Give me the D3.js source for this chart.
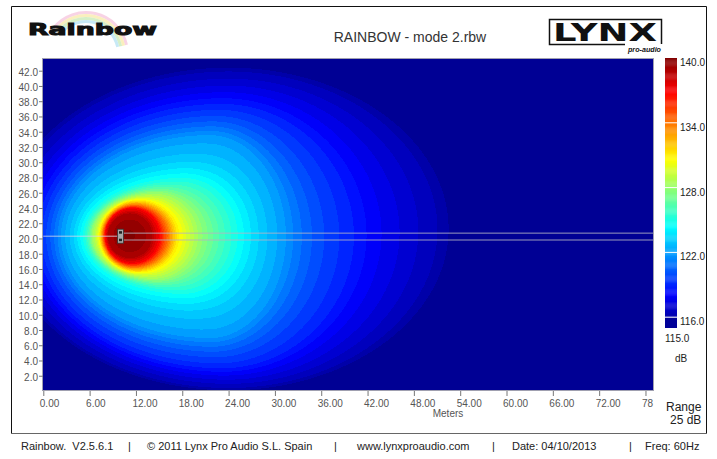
<!DOCTYPE html>
<html>
<head>
<meta charset="UTF-8">
<title>RAINBOW - mode 2.rbw</title>
<script src="https://cdn.jsdelivr.net/npm/d3@7"></script>
<style>
html, body { margin: 0; padding: 0; background: #fff; }
svg { display: block; font-family: "Liberation Sans", Arial, sans-serif; }
</style>
</head>
<body>
<script>
// SPL contours (dB), extents in metres
var levels        = [139, 137, 134, 131, 128, 125, 122, 119, 117, 116];
var contourLeft   = [8.4, 8.0, 7.7, 7.3, 6.3, 5.3, 2.5, -0.5, -3.0, -5.0];
var contourRight  = [14.0, 15.1, 16.2, 17.4, 20.3, 24.8, 31.0, 39.5, 47.5, 52.5];
var contourWidest = [11.2, 11.5, 11.8, 12.3, 14.5, 18.0, 21.5, 23.0, 24.0, 24.0];
var contourTop    = [23.2, 24.0, 24.4, 25.0, 26.0, 27.7, 33.3, 37.3, 40.5, 42.4];
var contourBottom = [17.5, 16.7, 16.2, 15.6, 14.6, 13.0, 7.2, 3.2, 1.2, 0.1];
var peakLevel = 140, floorLevel = 115.6;

var source = {x: 10.0, y: 20.3};
var beamTop = 20.7, beamBottom = 19.8;

var xTicks = [0, 6, 12, 18, 24, 30, 36, 42, 48, 54, 60, 66, 72, 78];
var xTickLabels = ["0.00", "6.00", "12.00", "18.00", "24.00", "30.00", "36.00", "42.00",
                   "48.00", "54.00", "60.00", "66.00", "72.00", "78"];
var yTicks = [2, 4, 6, 8, 10, 12, 14, 16, 18, 20, 22, 24, 26, 28, 30, 32, 34, 36, 38, 40, 42];
var cbTicks = [140, 134, 128, 122, 116];
var cbMin = 115, cbMax = 140;
var jetStops = ["#000080", "#0000ff", "#0080ff", "#00ffff", "#80ff80", "#ffff00", "#ff8000", "#ff0000", "#800000"];

var footer = ["Rainbow.  V2.5.6.1", "|", "\u00a9 2011 Lynx Pro Audio S.L. Spain", "|",
              "www.lynxproaudio.com", "|", "Date: 04/10/2013", "|", "Freq: 60Hz"];
var footerX = [21, 128, 147, 334, 357, 492, 512, 629, 645];

var width = 717, height = 459;

var svg = d3.select("body").append("svg")
    .attr("width", width)
    .attr("height", height);

var x = d3.scaleLinear().domain([0, 79]).range([43.3, 653.2]);
var y = d3.scaleLinear().domain([0, 43.6]).range([391, 58.5]);

var color = d3.scaleLinear()
    .domain(d3.range(jetStops.length).map(function (i) { return cbMin + i * (cbMax - cbMin) / (jetStops.length - 1); }))
    .range(jetStops)
    .clamp(true);

// frame
svg.append("path")
    .attr("d", "M11.5,433 V6.5 H706.5 V433")
    .attr("fill", "none").attr("stroke", "#111").attr("stroke-width", 1);
svg.append("line")
    .attr("x1", 11).attr("x2", 707).attr("y1", 433.5).attr("y2", 433.5)
    .attr("stroke", "#666");

// Rainbow logo
var logo = svg.append("g");
var arcColors = ["#f6c4dc", "#f8eaa8", "#c8eab4", "#b4e2f2"];
arcColors.forEach(function (c, i) {
    logo.append("path")
        .attr("d", d3.arc()({innerRadius: 40 - i * 3, outerRadius: 43 - i * 3, startAngle: -0.9, endAngle: 1.35}))
        .attr("transform", "translate(86,54)")
        .attr("fill", c).attr("opacity", 0.75);
});
logo.append("text")
    .attr("x", 28).attr("y", 35)
    .attr("font-family", "DejaVu Sans").attr("font-weight", "bold").attr("font-size", 16)
    .attr("textLength", 129).attr("lengthAdjust", "spacingAndGlyphs")
    .attr("fill", "#111").attr("stroke", "#111").attr("stroke-width", 1)
    .text("Rainbow");

// title
svg.append("text")
    .attr("x", 410).attr("y", 41.5)
    .attr("text-anchor", "middle").attr("font-size", 14).attr("fill", "#333")
    .text("RAINBOW - mode 2.rbw");

// LYNX logo
var lynx = svg.append("g");
lynx.append("path")
    .attr("d", "M625,44.5 H549.5 V19.5 H661.5 V44")
    .attr("fill", "none").attr("stroke", "#111").attr("stroke-width", 1.5);
lynx.append("text")
    .attr("x", 553).attr("y", 41)
    .attr("font-family", "DejaVu Sans").attr("font-weight", "bold").attr("font-size", 24)
    .attr("textLength", 104).attr("lengthAdjust", "spacingAndGlyphs")
    .attr("fill", "#111")
    .text("LYNX");
lynx.append("text")
    .attr("x", 628).attr("y", 52)
    .attr("font-weight", "bold").attr("font-style", "italic").attr("font-size", 7)
    .attr("textLength", 33).attr("lengthAdjust", "spacingAndGlyphs")
    .attr("fill", "#111")
    .text("pro-audio");

// SPL map: each contour is two half-ellipses joined at its widest point
function levelAt(px, py) {
    var prev = null;
    for (var i = 0; i < levels.length; i++) {
        var w = contourWidest[i];
        var a = px < w ? w - contourLeft[i] : contourRight[i] - w;
        var cy = (contourTop[i] + contourBottom[i]) / 2, b = (contourTop[i] - contourBottom[i]) / 2;
        var f = Math.hypot((px - w) / a, (py - cy) / b);
        if (f < 1) {
            if (i === 0) return peakLevel - (peakLevel - levels[0]) * f;
            var g = (prev - 1) / ((prev - 1) + (1 - f));
            return levels[i - 1] + g * (levels[i] - levels[i - 1]);
        }
        prev = f;
    }
    return floorLevel;
}

var x0 = Math.round(x.range()[0]), x1 = Math.round(x.range()[1]);
var y0 = Math.round(y.range()[1]), y1 = Math.round(y.range()[0]);
var cw = x1 - x0, ch = y1 - y0;
var canvas = document.createElement("canvas");
canvas.width = cw; canvas.height = ch;
var ctx = canvas.getContext("2d");
var img = ctx.createImageData(cw, ch);
for (var j = 0; j < ch; j++) {
    var my = y.invert(y0 + j + 0.5);
    for (var i = 0; i < cw; i++) {
        var mx = x.invert(x0 + i + 0.5);
        var L = Math.round(levelAt(mx, my) * 2) / 2;
        var c = d3.rgb(color(L));
        var k = (j * cw + i) * 4;
        img.data[k] = c.r; img.data[k + 1] = c.g; img.data[k + 2] = c.b; img.data[k + 3] = 255;
    }
}
ctx.putImageData(img, 0, 0);

var plot = svg.append("g");
plot.append("image")
    .attr("x", x0).attr("y", y0).attr("width", cw).attr("height", ch)
    .attr("preserveAspectRatio", "none")
    .attr("href", canvas.toDataURL());

// aiming lines and source
plot.append("line")
    .attr("x1", x(0)).attr("x2", x(source.x)).attr("y1", y(source.y)).attr("y2", y(source.y))
    .attr("stroke", "#d8d8e8").attr("stroke-opacity", 0.8);
[beamTop, beamBottom].forEach(function (b) {
    plot.append("line")
        .attr("x1", x(source.x)).attr("x2", x(79)).attr("y1", y(b)).attr("y2", y(b))
        .attr("stroke", "#b4b4c4").attr("stroke-opacity", 0.85);
});
plot.append("rect")
    .attr("x", x(source.x) - 3).attr("y", y(source.y) - 7).attr("width", 6).attr("height", 14)
    .attr("fill", "#a8a8a8").attr("stroke", "#333").attr("stroke-width", 0.8);
plot.append("rect")
    .attr("x", x(source.x) - 1.5).attr("y", y(source.y) - 5).attr("width", 3).attr("height", 2.5)
    .attr("fill", "#222");
plot.append("rect")
    .attr("x", x(source.x) - 1.5).attr("y", y(source.y) + 2.5).attr("width", 3).attr("height", 2.5)
    .attr("fill", "#222");

plot.append("rect")
    .attr("x", x0 - 0.5).attr("y", y0 - 0.5).attr("width", cw + 1).attr("height", ch)
    .attr("fill", "none").attr("stroke", "#a0a0b0");

// axes
var xAxis = svg.append("g")
    .attr("transform", "translate(0," + y1 + ")")
    .call(d3.axisBottom(x).tickValues(xTicks).tickSize(5).tickPadding(4)
        .tickFormat(function (d, i) { return xTickLabels[i]; }));
xAxis.select(".domain").remove();
xAxis.selectAll("line").attr("stroke", "#777");
xAxis.selectAll("text")
    .attr("text-anchor", "start").attr("dx", -4)
    .attr("font-size", 10).attr("font-family", "Liberation Sans, Arial, sans-serif").attr("fill", "#555");

var yAxis = svg.append("g")
    .attr("transform", "translate(" + x0 + ",0)")
    .call(d3.axisLeft(y).tickValues(yTicks).tickSize(4).tickPadding(1).tickFormat(d3.format(".1f")));
yAxis.select(".domain").remove();
yAxis.selectAll("line").attr("stroke", "#777");
yAxis.selectAll("text")
    .attr("dy", "0.45em")
    .attr("font-size", 10).attr("font-family", "Liberation Sans, Arial, sans-serif").attr("fill", "#555");

svg.append("text")
    .attr("x", 448).attr("y", 417)
    .attr("text-anchor", "middle").attr("font-size", 10).attr("fill", "#555")
    .text("Meters");

// colour bar
var cb = d3.scaleLinear().domain([cbMin, cbMax]).range([328, 58]);
var cbX = 665, cbW = 12;
var cbG = svg.append("g");
cbG.selectAll("rect")
    .data(d3.range(116, 140, 0.1))
    .enter().append("rect")
    .attr("x", cbX).attr("width", cbW)
    .attr("y", function (d) { return cb(d + 0.1); })
    .attr("height", function (d) { return cb(d) - cb(d + 0.1) + 0.3; })
    .attr("fill", function (d) { return color(d + 0.05); });
cbG.append("rect")
    .attr("x", cbX).attr("width", cbW)
    .attr("y", cb(116)).attr("height", cb(cbMin) - cb(116))
    .attr("fill", color(floorLevel));
cbG.selectAll("line.sep")
    .data(cbTicks.slice(1))
    .enter().append("line")
    .attr("class", "sep")
    .attr("x1", cbX).attr("x2", cbX + cbW)
    .attr("y1", function (d) { return cb(d); }).attr("y2", function (d) { return cb(d); })
    .attr("stroke", "#fff").attr("stroke-width", 1);
cbG.selectAll("text.tick")
    .data(cbTicks)
    .enter().append("text")
    .attr("class", "tick")
    .attr("x", cbX + cbW + 3)
    .attr("y", function (d) { return cb(d) + 8; })
    .attr("font-size", 10).attr("fill", "#222")
    .text(function (d) { return d.toFixed(1); });

svg.append("text").attr("x", 665).attr("y", 342).attr("font-size", 10).attr("fill", "#222").text(cbMin.toFixed(1));
svg.append("text").attr("x", 675).attr("y", 362).attr("font-size", 10).attr("fill", "#222").text("dB");
svg.append("text").attr("x", 666).attr("y", 411).attr("font-size", 12).attr("fill", "#222").text("Range");
svg.append("text").attr("x", 670).attr("y", 424).attr("font-size", 12).attr("fill", "#222")
    .text((cbMax - cbMin) + " dB");

// footer
svg.selectAll("text.footer")
    .data(footer)
    .enter().append("text")
    .attr("class", "footer")
    .attr("x", function (d, i) { return footerX[i]; })
    .attr("y", 450)
    .attr("font-size", 11).attr("fill", "#222")
    .attr("xml:space", "preserve")
    .text(function (d) { return d; });
</script>
</body>
</html>
